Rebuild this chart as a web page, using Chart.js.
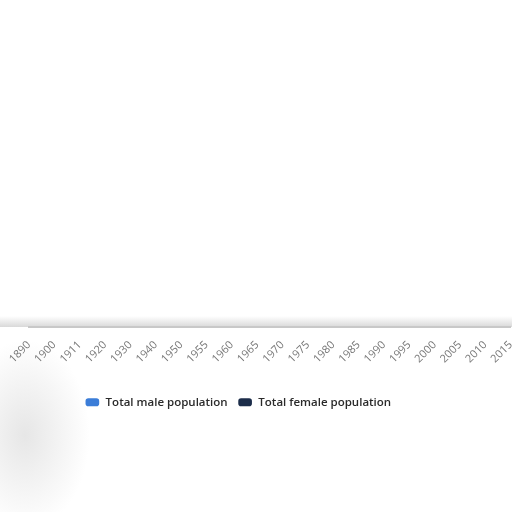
<!DOCTYPE html>
<html>
<head>
<meta charset="utf-8">
<script src="https://cdn.jsdelivr.net/npm/chart.js@4/dist/chart.umd.min.js"></script>
<style>
  html, body { margin: 0; padding: 0; background: #fff; overflow: hidden; }
  body { width: 512px; height: 512px; position: relative; }
  #wrap { position: absolute; left: -48px; top: 0; width: 572px; height: 418px; }
  .shade { position: absolute; left: 0; top: 316px; width: 512px; height: 11px;
           background: linear-gradient(to bottom, rgba(255,255,255,0), rgba(185,185,185,0.55)); }
  .corner { position: absolute; left: -40px; top: 340px; width: 130px; height: 190px;
            background: radial-gradient(closest-side, rgba(222,222,222,0.75), rgba(255,255,255,0)); }
</style>
</head>
<body>
<div class="shade"></div>
<div class="corner"></div>
<div id="wrap"><canvas id="popChart"></canvas></div>
<script>
const years = ['1890', '1900', '1911', '1920', '1930', '1940', '1950', '1955', '1960', '1965',
               '1970', '1975', '1980', '1985', '1990', '1995', '2000', '2005', '2010', '2015'];
// no line is visible in the plot area, so no value can be read for either series
const maleValues = [null, null, null, null, null, null, null, null, null, null,
                    null, null, null, null, null, null, null, null, null, null];
const femaleValues = [null, null, null, null, null, null, null, null, null, null,
                      null, null, null, null, null, null, null, null, null, null];

document.addEventListener('DOMContentLoaded', () => {
    setupChart();
});

function setupChart() {
    const ctx = document.getElementById('popChart').getContext('2d');

    new Chart(ctx, {
        type: 'line',
        data: {
            labels: years,
            datasets: [{
                label: 'Total male population',
                data: maleValues,
                borderColor: '#3b7dd8',
                backgroundColor: '#3b7dd8',
                borderWidth: 2
            }, {
                label: 'Total female population',
                data: femaleValues,
                borderColor: '#1c2d4a',
                backgroundColor: '#1c2d4a',
                borderWidth: 2
            }]
        },
        options: {
            responsive: true,
            maintainAspectRatio: false,
            animation: false,
            layout: { padding: 0 },
            plugins: {
                tooltip: { enabled: false },
                legend: {
                    position: 'bottom',
                    labels: {
                        usePointStyle: true,
                        pointStyle: 'rectRounded',
                        pointStyleWidth: 15,
                        boxHeight: 5,
                        padding: 10,
                        color: '#2a2a2a',
                        font: { family: 'Open Sans', size: 11.5, weight: '600' }
                    }
                }
            },
            scales: {
                x: {
                    grid: { display: false },
                    border: { color: '#c8c8c8', width: 2 },
                    ticks: {
                        minRotation: 45,
                        maxRotation: 45,
                        autoSkip: false,
                        padding: 4,
                        color: '#777',
                        font: { family: 'Open Sans', size: 11 }
                    },
                    afterFit: (scale) => { scale.height = 60; }
                },
                y: {
                    grid: { display: false },
                    border: { display: false },
                    ticks: { display: false },
                    afterFit: (scale) => { scale.width = 77; }
                }
            }
        }
    });
}
</script>
</body>
</html>
